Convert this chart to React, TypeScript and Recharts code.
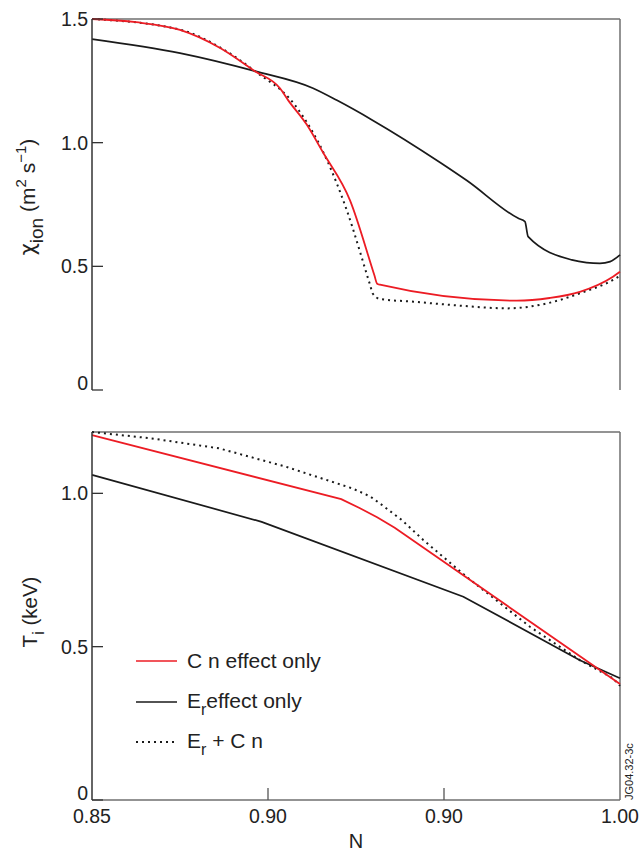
import React from 'react';
import { LineChart, Line, XAxis, YAxis, ReferenceLine, Legend } from 'recharts';

const FONT = '"Liberation Sans", Arial, Helvetica, sans-serif';
const RED = '#ec1c24';
const BLACK = '#1a1a1a';
const FRAME = '#6f6f6f';

// shared N axis
const nTicks = [0.85, 0.9, 0.95, 1.0];
const nTickLabels = ['0.85', '0.90', '0.90', '1.00'];

// upper panel: chi_ion
const chiTicks = [0, 0.5, 1.0, 1.5];
const chiTickLabels = ['0', '0.5', '1.0', '1.5'];

const chiCnN = [0.85, 0.8625, 0.875, 0.8864, 0.8963, 0.9034, 0.9057, 0.911, 0.9156, 0.9233, 0.9302, 0.931, 0.9318, 0.9707, 0.98, 0.9886, 0.998, 1.0];
const chiCnVal = [1.5, 1.487, 1.456, 1.383, 1.289, 1.22, 1.172, 1.073, 0.961, 0.767, 0.465, 0.43, 0.426, 0.361, 0.372, 0.397, 0.458, 0.478];

const chiErN = [0.85, 0.875, 0.8963, 0.9128, 0.9196, 0.9298, 0.9489, 0.9565, 0.9711, 0.973, 0.9739, 0.9863, 0.9905, 0.9943, 0.9972, 1.0];
const chiErVal = [1.419, 1.362, 1.289, 1.22, 1.171, 1.09, 0.92, 0.847, 0.694, 0.681, 0.62, 0.526, 0.515, 0.512, 0.519, 0.546];

const chiBothN = [0.85, 0.875, 0.8864, 0.8963, 0.9077, 0.9168, 0.9224, 0.929, 0.9298, 0.9318, 0.9413, 0.9555, 0.9679, 0.9792, 0.9886, 0.998, 1.0];
const chiBothVal = [1.5, 1.457, 1.385, 1.289, 1.151, 0.928, 0.726, 0.425, 0.389, 0.368, 0.357, 0.34, 0.33, 0.35, 0.391, 0.445, 0.462];

// lower panel: T_i
const tiTicks = [0, 0.5, 1.0];
const tiTickLabels = ['0', '0.5', '1.0'];

const tiCnN = [0.85, 0.9208, 0.926, 0.931, 0.936, 1.0];
const tiCnVal = [1.19, 0.981, 0.952, 0.922, 0.888, 0.378];

const tiErN = [0.85, 0.8982, 0.9555, 0.9886, 1.0];
const tiErVal = [1.06, 0.907, 0.663, 0.456, 0.397];

const tiBothN = [0.85, 0.867, 0.886, 0.905, 0.924, 0.929, 0.9318, 0.938, 0.9441, 0.9564, 0.9744, 0.9886, 0.998, 1.0];
const tiBothVal = [1.2, 1.179, 1.147, 1.087, 1.016, 0.99, 0.967, 0.913, 0.848, 0.728, 0.565, 0.456, 0.397, 0.372];

const zip = (n: number[], v: number[]) => n.map((x, i) => ({ n: x, v: v[i] }));

const chiCn = zip(chiCnN, chiCnVal);
const chiEr = zip(chiErN, chiErVal);
const chiBoth = zip(chiBothN, chiBothVal);
const tiCn = zip(tiCnN, tiCnVal);
const tiEr = zip(tiErN, tiErVal);
const tiBoth = zip(tiBothN, tiBothVal);

const findIdx = (arr: number[], v: number) => arr.findIndex((t) => Math.abs(t - v) < 1e-9);

const makeYTick = (ticks: number[], labels: string[]) => (props: any) => {
  const { x, y, payload } = props;
  const i = findIdx(ticks, payload.value);
  const zero = payload.value === 0;
  return (
    <g>
      <line x1={x} x2={x + 11} y1={y} y2={y} stroke="#333" strokeWidth={1.3} />
      <text x={x - 4} y={zero ? y : y + 7} textAnchor="end" fontSize={19.5} fontFamily={FONT} fill="#222">
        {labels[i]}
      </text>
    </g>
  );
};

const makeXTick = (withText: boolean) => (props: any) => {
  const { x, y, payload } = props;
  const i = findIdx(nTicks, payload.value);
  const edge = i === 0 || i === nTicks.length - 1;
  return (
    <g>
      {!edge && <line x1={x} x2={x} y1={y} y2={y - 12} stroke="#555" strokeWidth={1.3} />}
      {withText && (
        <text x={x} y={y + 23} textAnchor="middle" fontSize={19.5} fontFamily={FONT} fill="#222">
          {nTickLabels[i]}
        </text>
      )}
    </g>
  );
};

const ChiTitle = () => {
  const cx = 35;
  const cy = 197;
  return (
    <text x={cx} y={cy} transform={`rotate(-90 ${cx} ${cy})`} textAnchor="middle" fontSize={21} fontFamily={FONT} fill="#222">
      <tspan fontFamily='"DejaVu Sans", sans-serif' fontSize={21}>χ</tspan>
      <tspan dy={8} fontSize={19}>ion</tspan>
      <tspan dy={-8}> (m</tspan>
      <tspan dy={-9} fontSize={15}>2</tspan>
      <tspan dy={9}> s</tspan>
      <tspan dy={-9} fontSize={15}>−1</tspan>
      <tspan dy={9}>)</tspan>
    </text>
  );
};

const TiTitle = () => {
  const cx = 37;
  const cy = 612 - 410;
  return (
    <text x={cx} y={cy} transform={`rotate(-90 ${cx} ${cy})`} textAnchor="middle" fontSize={20.5} fontFamily={FONT} fill="#222">
      T<tspan dy={7} fontSize={16}>i</tspan>
      <tspan dy={-7}> (keV)</tspan>
    </text>
  );
};

const NLabel = (props: any) => {
  const vb = props.viewBox || { x: 92, y: 390, width: 528 };
  return (
    <text x={vb.x + vb.width / 2} y={vb.y + 48} textAnchor="middle" fontSize={20} fontFamily={FONT} fill="#222">
      N
    </text>
  );
};

const sub = (s: string) => (
  <span style={{ fontSize: 16, position: 'relative', top: 7 }}>{s}</span>
);

const legendItems = [
  { key: 'cn', color: RED, dash: undefined as string | undefined, label: <>C n effect only</> },
  { key: 'er', color: BLACK, dash: undefined as string | undefined, label: <>E{sub('r')}effect only</> },
  { key: 'both', color: BLACK, dash: '2 4', label: <>E{sub('r')} + C n</> },
];

const LegendBox = () => (
  <div style={{ fontFamily: FONT, fontSize: 21, color: '#222' }}>
    {legendItems.map((it) => (
      <div key={it.key} style={{ display: 'flex', alignItems: 'center', height: 40.5 }}>
        <svg width={41} height={4} style={{ marginRight: 10, display: 'block' }}>
          <line x1={0} x2={41} y1={2} y2={2} stroke={it.color} strokeWidth={it.dash ? 2 : 1.7} strokeDasharray={it.dash} />
        </svg>
        <span style={{ whiteSpace: 'nowrap', lineHeight: '24px' }}>{it.label}</span>
      </div>
    ))}
  </div>
);

export default function App() {
  return (
    <div style={{ position: 'absolute', left: 0, top: 0, width: 642, height: 855, background: '#fff' }}>
      <div style={{ position: 'absolute', left: 0, top: 0 }}>
        <LineChart width={642} height={410} margin={{ top: 19, right: 22, bottom: 20, left: 0 }}>
          <XAxis
            type="number"
            dataKey="n"
            domain={[0.85, 1.0]}
            ticks={nTicks}
            interval={0}
            height={0}
            tickSize={0}
            tickMargin={0}
            tickLine={false}
            tick={makeXTick(false)}
            axisLine={{ stroke: FRAME, strokeWidth: 1.5 }}
          />
          <YAxis
            type="number"
            domain={[0, 1.5]}
            ticks={chiTicks}
            interval={0}
            width={92}
            tickSize={0}
            tickMargin={0}
            tickLine={false}
            tick={makeYTick(chiTicks, chiTickLabels)}
            axisLine={{ stroke: '#333', strokeWidth: 1.5 }}
            label={() => <ChiTitle />}
          />
          <ReferenceLine y={1.5} stroke={FRAME} strokeWidth={1.5} />
          <ReferenceLine x={1.0} stroke={FRAME} strokeWidth={1.5} />
          <Line data={chiEr} dataKey="v" type="monotoneX" stroke={BLACK} strokeWidth={1.7} dot={false} isAnimationActive={false} />
          <Line data={chiBoth} dataKey="v" type="monotoneX" stroke={BLACK} strokeWidth={2} strokeDasharray="2 4" dot={false} isAnimationActive={false} />
          <Line data={chiCn} dataKey="v" type="monotoneX" stroke={RED} strokeWidth={1.8} dot={false} isAnimationActive={false} />
        </LineChart>
      </div>
      <div style={{ position: 'absolute', left: 0, top: 410 }}>
        <LineChart width={642} height={445} margin={{ top: 22, right: 22, bottom: 0, left: 0 }}>
          <XAxis
            type="number"
            dataKey="n"
            domain={[0.85, 1.0]}
            ticks={nTicks}
            interval={0}
            height={55}
            tickSize={0}
            tickMargin={0}
            tickLine={false}
            tick={makeXTick(true)}
            axisLine={{ stroke: FRAME, strokeWidth: 1.5 }}
            label={NLabel}
          />
          <YAxis
            type="number"
            domain={[0, 1.2]}
            ticks={tiTicks}
            interval={0}
            width={92}
            tickSize={0}
            tickMargin={0}
            tickLine={false}
            tick={makeYTick(tiTicks, tiTickLabels)}
            axisLine={{ stroke: '#333', strokeWidth: 1.5 }}
            label={() => <TiTitle />}
          />
          <ReferenceLine y={1.2} stroke={FRAME} strokeWidth={1.5} />
          <ReferenceLine x={1.0} stroke={FRAME} strokeWidth={1.5} />
          <Legend
            layout="vertical"
            align="center"
            verticalAlign="middle"
            content={() => <LegendBox />}
            wrapperStyle={{ left: 136, top: 231, width: 'auto' }}
          />
          <Line data={tiEr} dataKey="v" type="linear" stroke={BLACK} strokeWidth={1.7} dot={false} isAnimationActive={false} />
          <Line data={tiBoth} dataKey="v" type="linear" stroke={BLACK} strokeWidth={2} strokeDasharray="2 4" dot={false} isAnimationActive={false} />
          <Line data={tiCn} dataKey="v" type="linear" stroke={RED} strokeWidth={1.8} dot={false} isAnimationActive={false} />
        </LineChart>
        <svg width={642} height={445} style={{ position: 'absolute', left: 0, top: 0, pointerEvents: 'none' }}>
          <text x={633} y={390} transform="rotate(-90 633 390)" fontSize={11} fontFamily={FONT} fill="#222">
            JG04.32-3c
          </text>
        </svg>
      </div>
    </div>
  );
}
